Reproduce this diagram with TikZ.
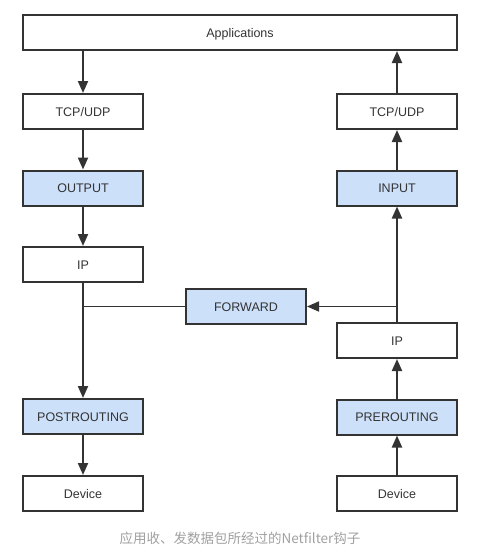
\documentclass[tikz,border=0pt]{standalone}
\usepackage{fontspec}
\setmainfont{Liberation Sans}
\newfontfamily\cjk{Noto Sans CJK SC}
\usetikzlibrary{arrows.meta}
\definecolor{hook}{HTML}{CCE0FA}
\definecolor{ink}{HTML}{333333}
\definecolor{capgray}{HTML}{A0A0A0}
\begin{document}
\begin{tikzpicture}[x=1pt,y=-1pt,
  box/.style={draw=ink, line width=2pt, minimum width=120pt, minimum height=35pt, inner sep=0pt, text height=9pt, text depth=0pt, font=\fontsize{12.5}{14}\selectfont, text=ink},
  hookbox/.style={box, fill=hook},
  tip/.style={-{Triangle[length=12pt,width=10pt]}},
  link/.style={draw=ink, line width=2pt, tip},
  flink/.style={draw=ink, line width=1.6pt}]
\path[use as bounding box] (0,0) rectangle (490,557);
\node[box, minimum width=434pt] (app) at (240,32.5) {Applications};
% left column
\node[box] (ltcp) at (83,111.5) {TCP/UDP};
\node[hookbox] (out) at (83,188) {OUTPUT};
\node[box] (lip) at (83,264.5) {IP};
\node[hookbox] (post) at (83,416.5) {POSTROUTING};
\node[box] (ldev) at (83,493.5) {Device};
% right column
\node[box] (rtcp) at (397,111.5) {TCP/UDP};
\node[hookbox] (input) at (397,188) {INPUT};
\node[box] (rip) at (397,340.5) {IP};
\node[hookbox] (pre) at (397,417) {PREROUTING};
\node[box] (rdev) at (397,493.5) {Device};
% forward
\node[hookbox] (fwd) at (246,306.5) {FORWARD};
\node[font=\cjk\fontsize{13.5}{15}\selectfont, text=capgray] (cap) at (240,538) {应用收、发数据包所经过的Netfilter钩子};
% left connectors
\draw[link] (app.south -| ltcp) -- (ltcp.north);
\draw[link] (ltcp.south) -- (out.north);
\draw[link] (out.south) -- (lip.north);
\draw[link] (lip.south) -- (post.north);
\draw[link] (post.south) -- (ldev.north);
% right connectors
\draw[link] (rdev.north) -- (pre.south);
\draw[link] (pre.north) -- (rip.south);
\draw[link] (rip.north) -- (input.south);
\draw[link] (input.north) -- (rtcp.south);
\draw[link] (rtcp.north) -- (app.south -| rtcp);
% forward path
\coordinate (rj) at (rip.north |- fwd);
\coordinate (lj) at (lip.south |- fwd);
\draw[flink, tip] (rj) -- (fwd.east);
\draw[flink] (fwd.west) -- (lj);
\end{tikzpicture}
\end{document}
